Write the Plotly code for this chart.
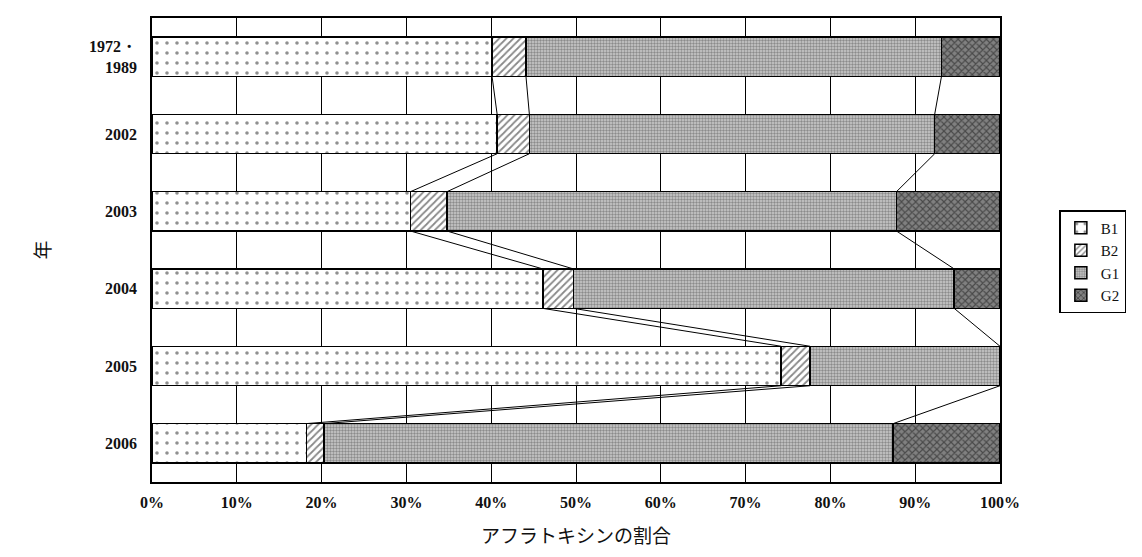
import plotly.graph_objects as go

years = ["1972・<br>1989", "2002", "2003", "2004", "2005", "2006"]
b1 = [40.1, 40.7, 30.5, 46.1, 74.2, 18.2]
b2 = [4.0, 3.8, 4.3, 3.6, 3.4, 2.1]
g1 = [49.0, 47.8, 53.0, 44.9, 22.4, 67.1]
g2 = [6.9, 7.7, 12.2, 5.4, 0.0, 12.6]
series_names = ["B1", "B2", "G1", "G2"]
x_ticks = [0, 10, 20, 30, 40, 50, 60, 70, 80, 90, 100]
x_tick_text = [f"{v}%" for v in x_ticks]

rows = list(range(len(years)))
bar_w = 0.51

styles = [
    dict(shape=".", fgcolor="#222", bgcolor="white", size=10, solidity=0.1),
    dict(shape="/", fgcolor="#111", bgcolor="white", size=5, solidity=0.35),
    dict(shape=".", fgcolor="#4a4a4a", bgcolor="#cccccc", size=3, solidity=0.5),
    dict(shape="x", fgcolor="#111", bgcolor="#808080", size=5, solidity=0.4),
]

fig = go.Figure()
for name, vals, st in zip(series_names, [b1, b2, g1, g2], styles):
    fig.add_trace(go.Bar(
        y=rows, x=vals, name=name, orientation="h", width=bar_w,
        marker=dict(color=st["bgcolor"], pattern=st, line=dict(color="black", width=1.5)),
    ))

# series lines between bars
cums = []
for i in rows:
    c1 = b1[i]
    c2 = c1 + b2[i]
    c3 = c2 + g1[i]
    cums.append([c1, c2, c3])
lx, ly = [], []
for i in rows[:-1]:
    for k in range(3):
        lx += [cums[i][k], cums[i + 1][k], None]
        ly += [i + bar_w / 2, i + 1 - bar_w / 2, None]
fig.add_trace(go.Scatter(x=lx, y=ly, mode="lines", line=dict(color="black", width=1),
                         showlegend=False, hoverinfo="skip"))

tick_font = dict(family="Liberation Serif", size=16, color="#111", weight="bold")

fig.update_layout(
    barmode="stack",
    width=1142, height=557,
    margin=dict(l=144, r=150, t=8, b=83),
    plot_bgcolor="white", paper_bgcolor="white",
    font=dict(family="Liberation Serif", size=16, color="#111"),
    showlegend=True,
    legend=dict(x=1.07, y=0.475, xanchor="left", yanchor="middle",
                traceorder="normal",
                bordercolor="black", borderwidth=1.5,
                font=dict(family="Liberation Serif", size=15, color="#111"),
                itemwidth=30, tracegroupgap=0),
    xaxis=dict(range=[0, 100], tickvals=x_ticks, ticktext=x_tick_text,
               tickfont=tick_font,
               showgrid=True, gridcolor="black", gridwidth=1.2,
               showline=True, linecolor="black", linewidth=1.5, mirror=True,
               ticks="outside", ticklen=5, tickcolor="white", zeroline=False,
               title=dict(text="アフラトキシンの割合",
                          font=dict(family="Noto Sans CJK JP", size=19, color="#111"),
                          standoff=20)),
    yaxis=dict(range=[5.5, -0.5], tickvals=rows, ticktext=years,
               tickfont=tick_font,
               showgrid=False, showline=True, linecolor="black", linewidth=1.5, mirror=True,
               ticks="outside", ticklen=10, tickcolor="white", zeroline=False,
               title=dict(text="年", font=dict(family="Noto Sans CJK JP", size=19, color="#111"),
                          standoff=33)),
)

fig.write_html("out.html")
